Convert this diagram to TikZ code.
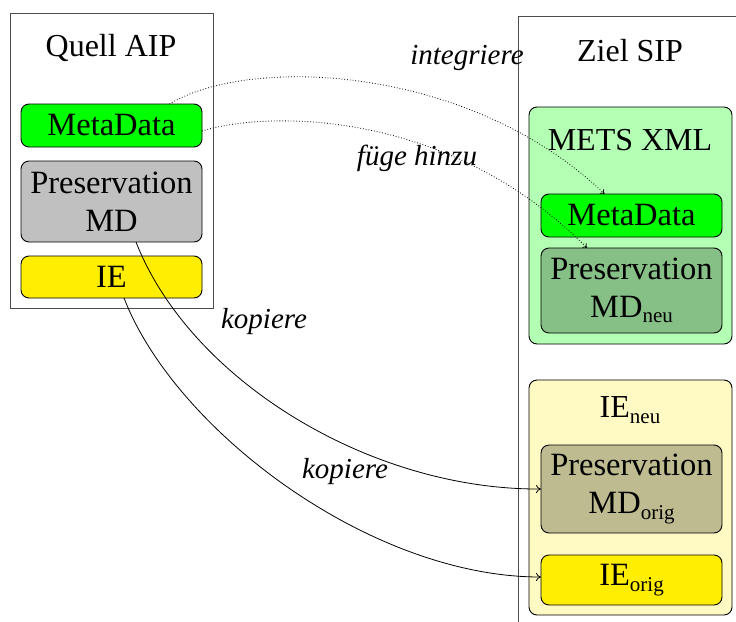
\documentclass[tikz,border=0pt]{standalone}
\usepackage{fontspec}
\setmainfont{Liberation Serif}
\usetikzlibrary{arrows.meta}
\definecolor{brightgreen}{RGB}{0,255,0}
\definecolor{lightgreenbg}{RGB}{179,255,179}
\definecolor{midgreen}{RGB}{134,192,134}
\definecolor{lgray}{RGB}{192,192,192}
\definecolor{ieyellow}{RGB}{255,238,0}
\definecolor{paleyellow}{RGB}{255,249,196}
\definecolor{khaki}{RGB}{190,187,145}
\newcommand\mysub[1]{\raisebox{-5.5pt}{\fontsize{21}{21}\selectfont #1}}
\tikzset{
  outerbox/.style={draw=black!70, line width=0.9pt},
  databox/.style={draw=black, line width=0.9pt, rounded corners=8pt, inner sep=0pt, outer sep=0pt, align=center, font=\fontsize{32.5}{38}\selectfont},
  title/.style={inner sep=0pt, font=\fontsize{32}{38}\selectfont},
  lab/.style={inner sep=0pt, font=\fontsize{29}{34}\selectfont\itshape},
  dotarrow/.style={dotted, line width=0.8pt, -{To[length=4pt,width=6pt]}},
  solidarrow/.style={line width=0.8pt, -{To[length=5pt,width=8pt]}}
}
\begin{document}
\begin{tikzpicture}[x=1pt,y=-1pt]
\useasboundingbox (0,0) rectangle (736,621);
% outer boxes
\draw[outerbox] (10,13) rectangle (213,308);
\draw[outerbox] (518,16) rectangle (760,650);
\node[title] (quell) at (111,48) {Quell AIP};
\node[title] (ziel) at (630,51) {Ziel SIP};
% left boxes
\node[databox, fill=brightgreen, minimum width=181pt, minimum height=43pt] (lmeta) at (111.5,125.5) {MetaData};
\node[databox, fill=lgray, minimum width=181pt, minimum height=81pt] (lpres) at (111.5,201.5) {Preservation\\MD};
\node[databox, fill=ieyellow, minimum width=181pt, minimum height=42pt] (lie) at (111.5,277) {IE};
% METS XML container
\node[databox, fill=lightgreenbg, minimum width=203pt, minimum height=237pt] (mets) at (630.5,225.5) {};
\node[title] (metstitle) at (630,140) {METS XML};
\node[databox, fill=brightgreen, minimum width=181pt, minimum height=43pt] (rmeta) at (631.5,215.5) {MetaData};
\node[databox, fill=midgreen, minimum width=181pt, minimum height=85pt] (rneu) at (631.5,290.5) {Preservation\\MD\mysub{neu}};
% IE_neu container
\node[databox, fill=paleyellow, minimum width=203pt, minimum height=235pt] (ieneu) at (630.5,497.5) {};
\node[title] (ieneutitle) at (630,410) {IE\mysub{neu}};
\node[databox, fill=khaki, minimum width=181pt, minimum height=88pt] (rorig) at (631.5,489) {Preservation\\MD\mysub{orig}};
\node[databox, fill=ieyellow, minimum width=181pt, minimum height=50pt] (rieorig) at (631.5,580) {IE\mysub{orig}};
% connectors
\draw[dotarrow] ([xshift=58pt]lmeta.north) .. controls (250,55) and (470,65) .. ([xshift=-27pt]rmeta.north);
\draw[dotarrow] ([yshift=-5.5pt]lmeta.east) .. controls (270,110) and (450,110) .. ([xshift=-44.5pt]rneu.north);
\draw[solidarrow] ([xshift=24.5pt]lpres.south) .. controls (190,380) and (370,490) .. (rorig.west);
\draw[solidarrow] ([xshift=12.5pt]lie.south) .. controls (175,430) and (370,577) .. ([yshift=3pt]rieorig.west);
% labels
\node[lab] (l1) at (467,58) {integriere};
\node[lab] (l2) at (417,158) {füge hinzu};
\node[lab] (l3) at (264,322) {kopiere};
\node[lab] (l4) at (345,472) {kopiere};
\end{tikzpicture}
\end{document}
